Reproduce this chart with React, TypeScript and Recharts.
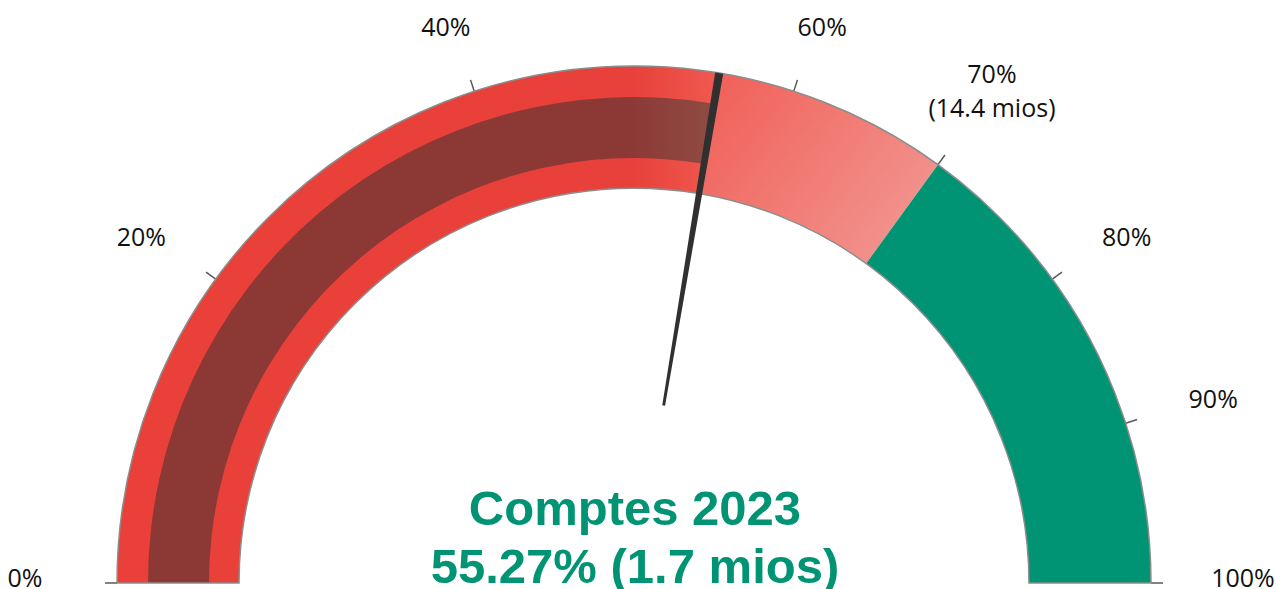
import React from 'react';
import { PieChart, Pie, Cell, Customized } from 'recharts';

// ---- data ----
const actualValue = 55.27; // Comptes 2023 (%)
const targetValue = 70; // objectif (%)
const maxValue = 100;
const bandNames = ['Comptes 2023', 'Objectif', 'Reste'];
const tickValues = [0, 20, 40, 60, 70, 80, 90, 100];
const tickLabels: string[][] = [
  ['0%'],
  ['20%'],
  ['40%'],
  ['60%'],
  ['70%', '(14.4 mios)'],
  ['80%'],
  ['90%'],
  ['100%'],
];
const titleLines = ['Comptes 2023', '55.27% (1.7 mios)'];

// ---- layout / style ----
const W = 1277;
const H = 589;
const CX = 634;
const CY = 583;
const R_OUT = 517;
const R_IN = 395;
const DARK_OUT = 486;
const DARK_IN = 425;
const NEEDLE_IN = 180;
const NEEDLE_W = 0.5; // in value units
const GREEN = '#009474';
const LABEL_RX = 609;
const LABEL_RY = 579.4;

const bandData = [
  { name: bandNames[0], value: actualValue },
  { name: bandNames[1], value: targetValue - actualValue },
  { name: bandNames[2], value: maxValue - targetValue },
];
const bandFills = ['url(#gRed)', 'url(#gSalmon)', GREEN];

const darkData = [
  { name: 'réalisé', value: actualValue },
  { name: 'vide', value: maxValue - actualValue },
];

const needleData = [
  { name: 'a', value: actualValue - NEEDLE_W / 2 },
  { name: 'needle', value: NEEDLE_W },
  { name: 'b', value: maxValue - actualValue - NEEDLE_W / 2 },
];

const outlineData = [{ name: 'all', value: maxValue }];

const toXY = (v: number, r: number) => {
  const a = Math.PI * (1 - v / maxValue);
  return { x: CX + r * Math.cos(a), y: CY - r * Math.sin(a) };
};

const Overlay = () => {
  return (
    <g>
      {tickValues.map((v, i) => {
        const p1 = toXY(v, R_OUT);
        const p2 = toXY(v, R_OUT + 12);
        return (
          <line key={'t' + i} x1={p1.x} y1={p1.y} x2={p2.x} y2={p2.y} stroke="#595959" strokeWidth={1.5} />
        );
      })}
      {tickValues.map((v, i) => {
        const a = Math.PI * (1 - v / maxValue);
        const lines = tickLabels[i];
        const c = Math.cos(a);
        const s = Math.sin(a);
        const x = CX + LABEL_RX * c;
        const y = CY - 6 - LABEL_RY * s - (lines.length - 1) * 22 * s;
        const lh = 34;
        const y0 = y - ((lines.length - 1) * lh) / 2;
        return (
          <text
            key={'l' + i}
            x={x}
            y={y0}
            textAnchor="middle"
            dominantBaseline="central"
            fontFamily="'Open Sans', sans-serif"
            fontSize={25}
            fill="#111"
          >
            {lines.map((ln, j) => (
              <tspan key={j} x={x} y={y0 + j * lh}>
                {ln}
              </tspan>
            ))}
          </text>
        );
      })}
      {titleLines.map((t, i) => (
        <text
          key={'c' + i}
          x={CX + 1}
          y={525 + i * 58}
          textAnchor="middle"
          fontFamily="'Liberation Sans', Arial, sans-serif"
          fontWeight="bold"
          fontSize={49}
          fill={GREEN}
        >
          {t}
        </text>
      ))}
    </g>
  );
};

export default function App() {
  return (
    <div style={{ position: 'absolute', left: 0, top: 0, width: W, height: H, background: '#fff' }}>
      <PieChart width={W} height={H} margin={{ top: 0, right: 0, bottom: 0, left: 0 }}>
        <defs>
          <linearGradient id="gRed" x1="0" y1="0" x2="1" y2="0">
            <stop offset="0" stopColor="#EA4039" />
            <stop offset="0.85" stopColor="#E8403A" />
            <stop offset="1" stopColor="#EF5A50" />
          </linearGradient>
          <linearGradient id="gDark" x1="0" y1="0" x2="1" y2="0">
            <stop offset="0" stopColor="#8C3835" />
            <stop offset="0.85" stopColor="#8C3936" />
            <stop offset="1" stopColor="#8F4C43" />
          </linearGradient>
          <linearGradient id="gSalmon" x1="0" y1="0.2" x2="1" y2="0.8">
            <stop offset="0" stopColor="#F0625A" />
            <stop offset="1" stopColor="#F29792" />
          </linearGradient>
        </defs>
        <Pie
          data={bandData}
          dataKey="value"
          nameKey="name"
          cx={CX}
          cy={CY}
          startAngle={180}
          endAngle={0}
          innerRadius={R_IN}
          outerRadius={R_OUT}
          stroke="none"
          isAnimationActive={false}
        >
          {bandData.map((d, i) => (
            <Cell key={d.name} fill={bandFills[i]} stroke="none" />
          ))}
        </Pie>
        <Pie
          data={darkData}
          dataKey="value"
          nameKey="name"
          cx={CX}
          cy={CY}
          startAngle={180}
          endAngle={0}
          innerRadius={DARK_IN}
          outerRadius={DARK_OUT}
          stroke="none"
          isAnimationActive={false}
        >
          <Cell fill="url(#gDark)" stroke="none" />
          <Cell fill="none" stroke="none" />
        </Pie>
        <Pie
          data={outlineData}
          dataKey="value"
          cx={CX}
          cy={CY}
          startAngle={180}
          endAngle={0}
          innerRadius={R_IN}
          outerRadius={R_OUT}
          isAnimationActive={false}
        >
          <Cell fill="none" stroke="#8C8C8C" strokeWidth={1.5} />
        </Pie>
        <Pie
          data={needleData}
          dataKey="value"
          nameKey="name"
          cx={CX}
          cy={CY}
          startAngle={180}
          endAngle={0}
          innerRadius={NEEDLE_IN}
          outerRadius={R_OUT}
          stroke="none"
          isAnimationActive={false}
        >
          <Cell fill="none" stroke="none" />
          <Cell fill="#303030" stroke="none" />
          <Cell fill="none" stroke="none" />
        </Pie>
        <Customized component={Overlay} />
      </PieChart>
    </div>
  );
}
